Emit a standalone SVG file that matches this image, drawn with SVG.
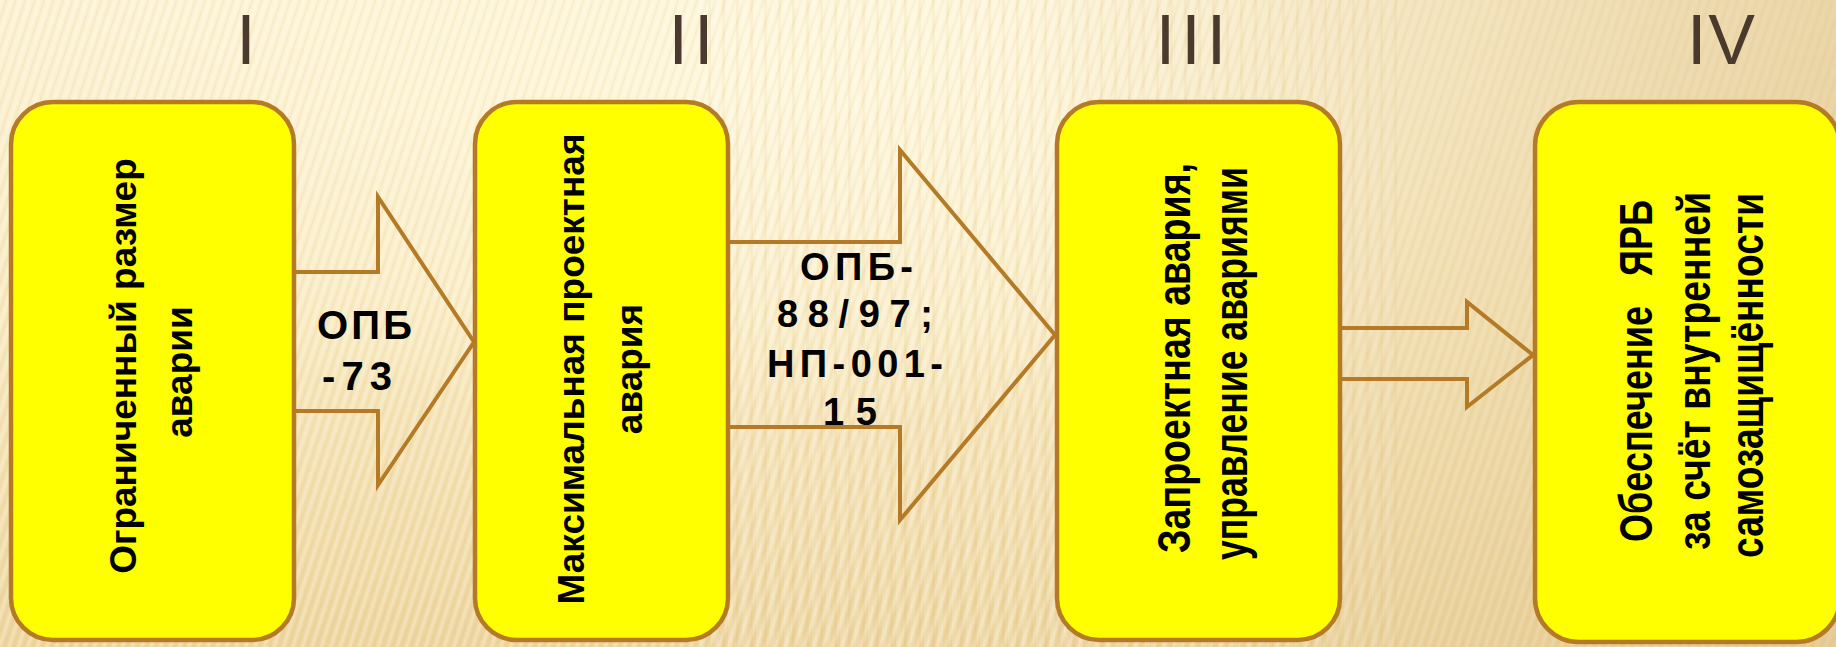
<svg xmlns="http://www.w3.org/2000/svg" width="1836" height="647" viewBox="0 0 1836 647">
<defs>
  <linearGradient id="bg" x1="0" y1="0" x2="0" y2="1">
    <stop offset="0" stop-color="#fbf0d0"/>
    <stop offset="0.5" stop-color="#f8e9bf"/>
    <stop offset="1" stop-color="#eed6a0"/>
  </linearGradient>
  <radialGradient id="glow" cx="0.42" cy="0.1" r="0.55">
    <stop offset="0" stop-color="#fff8dc" stop-opacity="0.85"/>
    <stop offset="1" stop-color="#fff8dc" stop-opacity="0"/>
  </radialGradient>
  <linearGradient id="rtan" x1="0" y1="0" x2="1" y2="0">
    <stop offset="0.55" stop-color="#dfc38a" stop-opacity="0"/>
    <stop offset="1" stop-color="#dfc38a" stop-opacity="0.6"/>
  </linearGradient>
  <pattern id="stripes" width="9" height="200" patternUnits="userSpaceOnUse" patternTransform="rotate(18)">
    <rect x="0" y="0" width="3" height="200" fill="#ffffff" fill-opacity="0.22"/>
    <rect x="5" y="0" width="2" height="200" fill="#b98f4a" fill-opacity="0.08"/>
  </pattern>
  <pattern id="vstripes" width="14" height="200" patternUnits="userSpaceOnUse">
    <rect x="0" y="0" width="5" height="200" fill="#ffffff" fill-opacity="0.15"/>
    <rect x="8" y="0" width="3" height="200" fill="#b98f4a" fill-opacity="0.07"/>
  </pattern>
  <style>
    .box { fill: #ffff00; stroke: #b47a26; stroke-width: 4.5; }
    .arrow { fill: none; stroke: #b47a26; stroke-width: 4; stroke-linejoin: miter; }
    .bt { font-family: "Liberation Sans", Arial, sans-serif; font-weight: bold; fill: #000; }
    .lbl { font-family: "Liberation Sans", Arial, sans-serif; font-weight: bold; fill: #000; }
    .num { font-family: "Liberation Sans", Arial, sans-serif; font-weight: normal; font-size: 70px; fill: #4a3a2d; text-anchor: middle; }
  </style>
</defs>

<g id="background">
  <rect x="0" y="0" width="1836" height="647" fill="url(#bg)"/>
  <rect x="0" y="0" width="1836" height="647" fill="url(#glow)"/>
  <rect x="0" y="0" width="1836" height="647" fill="url(#stripes)"/>
  <rect x="700" y="0" width="700" height="647" fill="url(#vstripes)"/>
  <rect x="0" y="0" width="1836" height="647" fill="url(#rtan)"/>
</g>

<g id="numerals">
  <text class="num" x="246" y="64">I</text>
  <text class="num" x="694" y="64" letter-spacing="6">II</text>
  <text class="num" x="1194" y="64" letter-spacing="6">III</text>
  <text class="num" x="1722" y="64" letter-spacing="2">IV</text>
</g>

<g id="connectors">
  <polygon class="arrow" points="294,272 378,272 378,197 474,342 378,485 378,411 294,411"/>
  <polygon class="arrow" points="728,242 900,242 900,150 1055,335 900,520 900,427 728,427"/>
  <polygon class="arrow" points="1340,328 1467,328 1467,302 1533,355 1467,407 1467,379 1340,379"/>
  <text class="lbl" font-size="40" x="317" y="339" textLength="95" lengthAdjust="spacing">ОПБ</text>
  <text class="lbl" font-size="40" x="322" y="390" textLength="70" lengthAdjust="spacing">-73</text>
  <text class="lbl" font-size="38" x="800" y="280" textLength="113" lengthAdjust="spacing">ОПБ-</text>
  <text class="lbl" font-size="38" x="777" y="327" textLength="156" lengthAdjust="spacing">88/97;</text>
  <text class="lbl" font-size="38" x="767" y="377" textLength="176" lengthAdjust="spacing">НП-001-</text>
  <text class="lbl" font-size="38" x="823" y="425" textLength="54" lengthAdjust="spacing">15</text>
</g>

<g id="node1">
  <rect class="box" x="11" y="102" width="283" height="538" rx="42" ry="42"/>
  <text class="bt" font-size="37" text-anchor="middle" transform="translate(136,366) rotate(-90)">Ограниченный размер</text>
  <text class="bt" font-size="37" text-anchor="middle" transform="translate(192,372) rotate(-90)">аварии</text>
</g>

<g id="node2">
  <rect class="box" x="475" y="102" width="253" height="538" rx="42" ry="42"/>
  <text class="bt" font-size="37" text-anchor="middle" transform="translate(584,369) rotate(-90)">Максимальная проектная</text>
  <text class="bt" font-size="37" text-anchor="middle" transform="translate(642,369) rotate(-90)">авария</text>
</g>

<g id="node3">
  <rect class="box" x="1057" y="102" width="283" height="538" rx="42" ry="42"/>
  <text class="bt" font-size="47" transform="translate(1190,553) rotate(-90)" textLength="390" lengthAdjust="spacingAndGlyphs">Запроектная авария,</text>
  <text class="bt" font-size="47" transform="translate(1247,560) rotate(-90)" textLength="393" lengthAdjust="spacingAndGlyphs">управление авариями</text>
</g>

<g id="node4">
  <rect class="box" x="1535" y="102" width="305" height="540" rx="44" ry="44"/>
  <text class="bt" font-size="47" transform="translate(1652,542) rotate(-90)" textLength="342" lengthAdjust="spacingAndGlyphs">Обеспечение&#160;&#160;&#160;ЯРБ</text>
  <text class="bt" font-size="47" transform="translate(1710,550) rotate(-90)" textLength="358" lengthAdjust="spacingAndGlyphs">за счёт внутренней</text>
  <text class="bt" font-size="47" transform="translate(1763,558) rotate(-90)" textLength="365" lengthAdjust="spacingAndGlyphs">самозащищённости</text>
</g>
</svg>
